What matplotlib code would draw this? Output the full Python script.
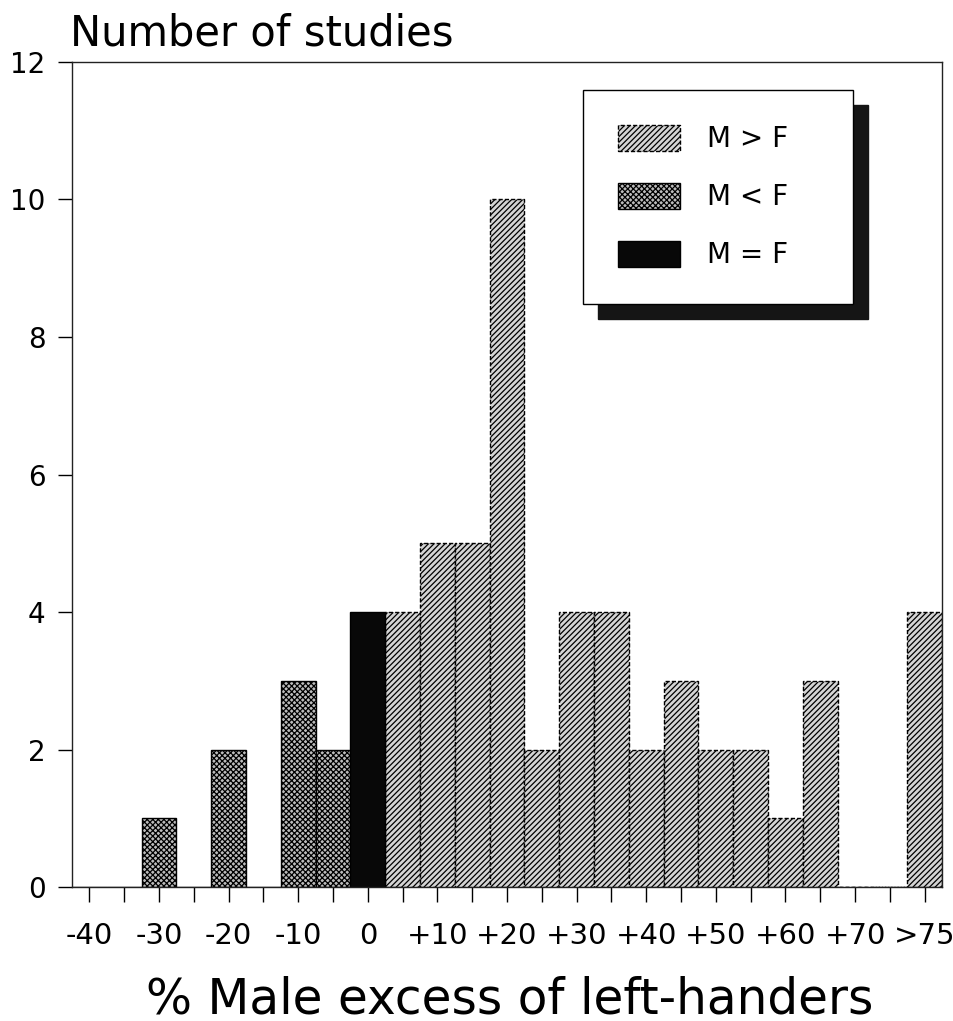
import matplotlib
matplotlib.use('Agg')
import matplotlib.pyplot as plt

# bins are 5% wide, centred on the tick; the last bin holds everything above 75
less_bins = [-40, -35, -30, -25, -20, -15, -10, -5]
less_counts = [0, 0, 1, 0, 2, 0, 3, 2]
equal_bins = [0]
equal_counts = [4]
greater_bins = [5, 10, 15, 20, 25, 30, 35, 40, 45, 50, 55, 60, 65, 70, 75, 80]
greater_counts = [4, 5, 5, 10, 2, 4, 4, 2, 3, 2, 2, 1, 3, 0, 0, 4]

major_ticks = [-40, -30, -20, -10, 0, 10, 20, 30, 40, 50, 60, 70, 80]
major_labels = ['-40', '-30', '-20', '-10', '0', '+10', '+20', '+30',
                '+40', '+50', '+60', '+70', '>75']
minor_ticks = [-35, -25, -15, -5, 5, 15, 25, 35, 45, 55, 65, 75]
y_ticks = [0, 2, 4, 6, 8, 10, 12]


def main():
    plt.rcParams['hatch.linewidth'] = 0.9
    plt.rcParams['font.family'] = 'DejaVu Sans'

    fig = plt.figure(figsize=(9.54, 10.21), dpi=100)
    ax = fig.add_axes([0.0755, 0.1312, 0.912, 0.8081])

    ax.bar(greater_bins, greater_counts, width=5, facecolor='#d4d4d4',
           edgecolor='black', hatch='//////', linewidth=1.0,
           linestyle=(0, (3, 1.5)), label='M > F', zorder=2)
    ax.bar(less_bins, less_counts, width=5, facecolor='#bcbcbc',
           edgecolor='black', hatch='xxxxxx', linewidth=1.0,
           label='M < F', zorder=2)
    ax.bar(equal_bins, equal_counts, width=5, facecolor='#080808',
           edgecolor='black', linewidth=1.0, label='M = F', zorder=2)

    ax.set_xlim(-42.5, 82.5)
    ax.set_ylim(0, 12)
    ax.set_xticks(major_ticks)
    ax.set_xticklabels(major_labels)
    ax.set_xticks(minor_ticks, minor=True)
    ax.set_yticks(y_ticks)
    ax.tick_params(axis='x', which='both', direction='out', length=11,
                   width=1.0, pad=14, labelsize=21)
    ax.tick_params(axis='y', direction='out', length=10, width=1.0,
                   pad=9, labelsize=20)
    for s in ax.spines.values():
        s.set_linewidth(1.0)
        s.set_color('#222222')

    leg = ax.legend(loc='upper left', bbox_to_anchor=(0.587, 0.708, 0.311, 0.258),
                    mode='expand', fontsize=20, frameon=True, fancybox=False,
                    handlelength=2.23, handleheight=1.04, handletextpad=1.0,
                    labelspacing=1.07, borderpad=1.26, borderaxespad=0,
                    shadow={'ox': 10.8, 'oy': -10.8, 'facecolor': '#151515',
                            'edgecolor': '#151515', 'alpha': 1})
    leg.get_frame().set_edgecolor('black')
    leg.get_frame().set_linewidth(1.0)

    fig.text(70 / 954, 1 - 45 / 1021, 'Number of studies', fontsize=30,
             va='baseline', ha='left')
    fig.text(510 / 954, 1 - 1013 / 1021, '% Male excess of left-handers',
             fontsize=35, va='baseline', ha='center')

    fig.savefig('out.png', dpi=100)


if __name__ == '__main__':
    main()
